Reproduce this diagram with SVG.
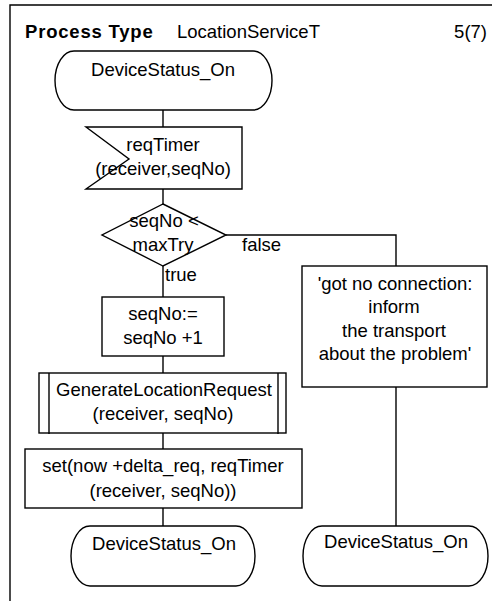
<svg xmlns="http://www.w3.org/2000/svg" width="497" height="601" viewBox="0 0 497 601">
  <style>
    .sym { fill: #ffffff; stroke: #000000; stroke-width: 1.4; }
    .ln { fill: none; stroke: #000000; stroke-width: 1.4; }
    text { font-family: "Liberation Sans", Arial, sans-serif; font-size: 18.5px; fill: #000000; }
    .c { text-anchor: middle; }
    .hdr { font-weight: bold; letter-spacing: 0.8px; }
  </style>
  <rect x="0" y="0" width="497" height="601" fill="#ffffff"/>

  <!-- page frame -->
  <g id="frame">
    <path class="ln" d="M10,601 V5 H492"/>
    <text class="hdr" x="25" y="38">Process Type</text>
    <text x="177" y="38">LocationServiceT</text>
    <text x="487" y="38" text-anchor="end" font-size="20">5(7)</text>
  </g>

  <!-- connectors -->
  <g id="connectors">
    <path class="ln" d="M163,110 V127"/>
    <path class="ln" d="M163,189 V204"/>
    <path class="ln" d="M163,266 V297"/>
    <path class="ln" d="M163,356 V373"/>
    <path class="ln" d="M163,433 V449"/>
    <path class="ln" d="M163,508 V526"/>
    <path class="ln" d="M226,235 H396 V266"/>
    <path class="ln" d="M396,387 V526"/>
    <text x="165" y="281">true</text>
    <text x="242" y="251">false</text>
  </g>

  <!-- start state -->
  <g id="state_start">
    <path class="sym" d="M74,51 H253 A19,29.5 0 0 1 253,110 H74 A19,29.5 0 0 1 74,51 Z"/>
    <text class="c" x="163" y="76">DeviceStatus_On</text>
  </g>

  <!-- input signal -->
  <g id="input_reqTimer">
    <path class="sym" d="M86,127 H242 V189 H86 L129,159 Z"/>
    <text class="c" x="163" y="151">reqTimer</text>
    <text class="c" x="163" y="175">(receiver,seqNo)</text>
  </g>

  <!-- decision -->
  <g id="decision_seqNo">
    <path class="sym" d="M163,204 L226,235 L163,266 L102,235 Z"/>
    <text class="c" x="164" y="227">seqNo &lt;</text>
    <text class="c" x="163" y="251">maxTry</text>
  </g>

  <!-- task: increment -->
  <g id="task_increment">
    <rect class="sym" x="102" y="297" width="122" height="59"/>
    <text class="c" x="163" y="320">seqNo:=</text>
    <text class="c" x="163" y="344">seqNo +1</text>
  </g>

  <!-- procedure call -->
  <g id="proc_generate">
    <rect class="sym" x="39" y="373" width="247" height="60"/>
    <path class="ln" d="M49,373 V434 M278,373 V434"/>
    <text class="c" x="164" y="396">GenerateLocationRequest</text>
    <text class="c" x="163" y="420">(receiver, seqNo)</text>
  </g>

  <!-- task: set timer -->
  <g id="task_set_timer">
    <rect class="sym" x="25" y="449" width="277" height="59"/>
    <text class="c" x="163" y="472">set(now +delta_req, reqTimer</text>
    <text class="c" x="163" y="497">(receiver, seqNo))</text>
  </g>

  <!-- next state (true branch) -->
  <g id="state_true">
    <path class="sym" d="M90,526 H236 A19,30 0 0 1 236,586 H90 A19,30 0 0 1 90,526 Z"/>
    <text class="c" x="164" y="550">DeviceStatus_On</text>
  </g>

  <!-- comment task (false branch) -->
  <g id="task_no_connection">
    <rect class="sym" x="302" y="266" width="185" height="121"/>
    <text class="c" x="395" y="290">'got no connection:</text>
    <text class="c" x="394" y="313">inform</text>
    <text class="c" x="394" y="337">the transport</text>
    <text class="c" x="395" y="360">about the problem'</text>
  </g>

  <!-- next state (false branch) -->
  <g id="state_false">
    <path class="sym" d="M322,526 H469 A19,30 0 0 1 469,586 H322 A19,30 0 0 1 322,526 Z"/>
    <text class="c" x="396" y="548">DeviceStatus_On</text>
  </g>
</svg>
